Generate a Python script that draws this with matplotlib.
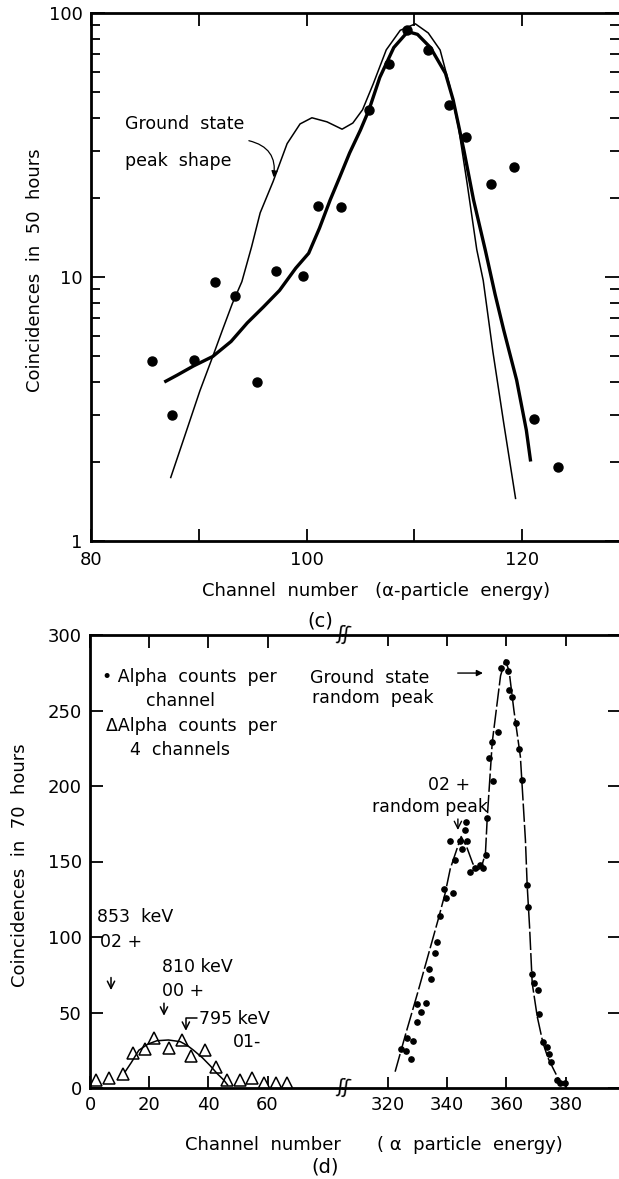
import matplotlib
matplotlib.use("Agg")
import matplotlib.pyplot as plt
from matplotlib.ticker import LogLocator, NullFormatter

plt.rcParams["font.family"] = ["DejaVu Sans"]
plt.rcParams["font.size"] = 13

# ---------------- panel (c): coincidences in 50 hours (log scale) ----------------
c_x = [85.7, 87.5, 89.6, 91.5, 93.4, 95.4, 97.2, 99.7, 101.1, 103.2,
       105.8, 107.7, 109.3, 111.3, 113.2, 114.8, 117.1, 119.3, 121.1, 123.3]
c_y = [4.8, 3.0, 4.85, 9.6, 8.5, 4.0, 10.5, 10.1, 18.5, 18.4,
       43, 64, 86, 72.5, 45, 34, 22.5, 26, 2.9, 1.9]

# thick fitted curve
fit_x = [86.8, 88.0, 89.5, 91.3, 93.0, 94.5, 96.0, 97.5, 99.0, 100.2, 101.2,
         102.2, 103.1, 104.0, 105.0, 105.8, 106.8, 108.1, 109.4, 110.3, 111.5,
         112.9, 113.6, 114.6, 115.5, 116.6, 117.5, 118.3, 119.5, 120.4, 120.8]
fit_y = [4.0, 4.25, 4.6, 5.0, 5.7, 6.7, 7.7, 8.9, 10.8, 12.3, 15.3,
         19.6, 24.0, 29.5, 36, 43, 57, 74, 85, 83, 74,
         59, 47, 30.3, 19.6, 12.6, 8.6, 6.3, 4.07, 2.63, 2.0]

# thin ground state peak shape
gs_x = [87.4, 88.7, 90.1, 91.3, 92.2, 93.1, 94.0, 94.9, 95.7, 96.9, 98.2,
        99.4, 100.5, 101.9, 103.3, 104.3, 105.2, 106.2, 107.4, 108.7, 110.1,
        111.3, 112.4, 113.3, 114.1, 114.9, 115.8, 116.4, 117.3, 118.3, 119.4]
gs_y = [1.74, 2.5, 3.7, 5.0, 6.3, 7.9, 9.6, 13, 17.5, 23, 32,
        38, 40.1, 38.7, 36.3, 38.3, 43, 54, 72.5, 86, 91,
        84, 72.4, 52.7, 37, 22.7, 12.7, 9.7, 5.2, 2.8, 1.45]

# ---------------- panel (d): coincidences in 70 hours ----------------
tri_x = [2.0, 6.4, 11.0, 14.7, 18.6, 21.7, 26.7, 31.1, 34.2, 39.0, 42.7,
         46.3, 50.8, 54.8, 58.8, 62.7, 66.7]
tri_y = [5.3, 6.6, 9.3, 23.4, 25.8, 33, 26.5, 31.8, 21.2, 25, 13.9,
         5.3, 5.3, 6.8, 3.5, 3.5, 3.5]
tri_fit_x = [11.9, 14.0, 16.5, 19.5, 22.6, 26.5, 30.5, 33.0, 35.0, 38.0,
             40.7, 43.0, 45.2, 46.5]
tri_fit_y = [10.8, 17, 25, 29, 31.3, 31.8, 30.7, 28, 25, 20,
             14.6, 9.5, 5.3, 2.0]

dot_x = [324.4, 326.1, 326.3, 327.7, 328.6, 329.7, 329.9, 331.1, 332.8, 333.7,
         334.5, 335.9, 336.7, 337.6, 339.0, 339.5, 341.0, 341.9, 342.7, 344.2,
         345.0, 345.9, 346.3, 346.7, 347.6, 349.3, 350.9, 352.1, 353.0, 353.5,
         354.2, 355.2, 355.5, 357.2, 358.0, 359.9, 360.6, 361.0, 361.9, 363.3,
         364.2, 365.1, 366.8, 367.2, 368.5, 369.3, 370.7, 371.1, 372.3, 373.8,
         374.3, 375.1, 377.0, 378.2, 379.6]
dot_y = [25.6, 24.5, 32.9, 19, 31.1, 44, 55.4, 50.6, 56.5, 78.8,
         72, 89.2, 96.5, 113.9, 131.6, 126, 163.8, 129, 151, 163.8,
         158, 170.8, 176.4, 163.8, 143.3, 145.5, 147.7, 145.5, 154.3, 178.6,
         218.3, 229.4, 203.3, 235.5, 278, 282.3, 276, 263.6, 259, 242,
         224.3, 204, 134.4, 120, 75.3, 69.8, 64.9, 48.8, 30.7, 27.4,
         22.3, 17, 5.3, 3.1, 3.1]
dc_x = [322.4, 326.0, 330.0, 334.0, 337.0, 339.3, 341.0, 342.7, 344.7, 346.5,
        348.6, 350.0, 351.5, 352.9, 353.5, 355.2, 358.0, 359.6, 360.9, 362.5,
        364.7, 366.4, 367.0, 367.8, 368.7, 370.4, 372.3, 374.0, 376.0, 377.8, 379.6]
dc_y = [10.8, 36, 63, 91, 112, 129, 145, 155, 166.5, 160,
        148.8, 144, 146, 155.4, 178.6, 229, 273, 283.4, 276, 250.3,
        219.4, 164.2, 134, 106.8, 69.3, 47.2, 30, 20, 12, 5, 2]

W, H = 619, 1179
fig = plt.figure(figsize=(W / 100, H / 100), dpi=100)


def box(x0, y0, x1, y1):
    return [x0 / W, 1 - y1 / H, (x1 - x0) / W, (y1 - y0) / H]


SPW = 2.0

# ---------------- (c) ----------------
ax = fig.add_axes(box(91, 13, 619, 541))
ax.plot(c_x, c_y, "o", color="black", ms=6.5)
ax.plot(fit_x, fit_y, "-", color="black", lw=2.4, solid_capstyle="butt")
ax.plot(gs_x, gs_y, "-", color="black", lw=1.1)
ax.set_yscale("log")
ax.set_ylim(1, 100)
ax.set_xlim(80, 129)
ax.set_yticks([1, 10, 100])
ax.set_yticklabels(["1", "10", "100"])
ax.yaxis.set_minor_locator(LogLocator(base=10, subs=range(2, 10)))
ax.yaxis.set_minor_formatter(NullFormatter())
ax.set_xticks([80, 90, 100, 110, 120])
ax.set_xticklabels(["80", "", "100", "", "120"])
ax.tick_params(which="both", direction="in", top=True, right=True,
               width=1.3, labelsize=13)
ax.tick_params(which="major", length=10)
ax.tick_params(which="minor", length=6.5)
ax.tick_params(axis="x", pad=7, length=9)
ax.tick_params(axis="y", pad=6)
for s in ax.spines.values():
    s.set_linewidth(SPW)
ax.spines["right"].set_visible(False)

ax.text(83.2, 38, "Ground  state", fontsize=12.5, va="center", ha="left")
ax.text(83.2, 27.5, "peak  shape", fontsize=12.5, va="center", ha="left")
ax.annotate("", xy=(96.9, 23.3), xytext=(94.4, 33),
            arrowprops=dict(arrowstyle="-|>", color="black", lw=0.9,
                            mutation_scale=9,
                            connectionstyle="arc3,rad=-0.5"))

fig.text(35 / W, 1 - 270 / H, "Coincidences  in  50  hours", rotation=90,
         ha="center", va="center", fontsize=13)
fig.text(376 / W, 1 - 591 / H, "Channel  number   (\u03b1-particle  energy)",
         ha="center", va="center", fontsize=13)
fig.text(320 / W, 1 - 621 / H, "(c)", ha="center", va="center", fontsize=14)

# ---------------- (d) ----------------
axl = fig.add_axes(box(90, 635, 343, 1088))
axr = fig.add_axes(box(343, 635, 619, 1088), sharey=axl)

axl.plot(tri_x, tri_y, "^", mfc="white", mec="black", mew=1.1, ms=9)
axl.plot(tri_fit_x, tri_fit_y, "-", color="black", lw=1.1)
axr.plot(dc_x, dc_y, color="black", lw=1.1, linestyle=(0, (12, 2)))
axr.plot(dot_x, dot_y, "o", color="black", ms=3.8)

axl.set_xlim(0, 85.5)
axr.set_xlim(304.8, 398)
axl.set_ylim(0, 300)
axl.set_yticks(range(0, 301, 50))
axl.set_xticks([0, 20, 40, 60])
axr.set_xticks([320, 340, 360, 380])

for a in (axl, axr):
    a.tick_params(direction="in", top=True, length=9, width=1.3,
                  labelsize=13, pad=6)
    for s in a.spines.values():
        s.set_linewidth(SPW)
axl.spines["right"].set_visible(False)
axl.tick_params(right=False)
axr.spines["left"].set_visible(False)
axr.spines["right"].set_visible(False)
axr.tick_params(left=False, labelleft=False, right=True, length=8)

# axis break marks
for yb in (0, 1):
    axr.text(0, yb, "\u0283\u0283", transform=axr.transAxes, ha="center",
             va="center", fontsize=14, rotation=-8)

# legend text
axl.text(4.0, 272, "\u2022 Alpha  counts  per", fontsize=12.5, va="center")
axl.text(19.0, 256, "channel", fontsize=12.5, va="center")
axl.text(5.5, 240, "\u0394Alpha  counts  per", fontsize=12.5, va="center")
axl.text(13.5, 224, "4  channels", fontsize=12.5, va="center")

axl.text(2.4, 113, "853  keV", fontsize=12.5, va="center")
axl.text(3.4, 97, "02 +", fontsize=12.5, va="center")
axl.annotate("", xy=(7.1, 63), xytext=(7.1, 75),
             arrowprops=dict(arrowstyle="->", color="black", lw=1.1))
axl.text(24.5, 80, "810 keV", fontsize=12.5, va="center")
axl.text(24.5, 64, "00 +", fontsize=12.5, va="center")
axl.annotate("", xy=(25.0, 46), xytext=(25.0, 58),
             arrowprops=dict(arrowstyle="->", color="black", lw=1.1))
axl.text(37.0, 45.5, "795 keV", fontsize=12.5, va="center")
axl.text(48.3, 30.5, "01-", fontsize=12.5, va="center")
axl.annotate("", xy=(32.4, 36), xytext=(37.0, 46.5),
             arrowprops=dict(arrowstyle="->", color="black", lw=1.1,
                             connectionstyle="angle,angleA=180,angleB=90,rad=0"))

axr.text(293.6, 271.5, "Ground  state", fontsize=12.5, va="center")
axr.text(294.3, 258, "random  peak", fontsize=12.5, va="center")
axr.annotate("", xy=(353.0, 274.8), xytext=(342.6, 274.8),
             arrowprops=dict(arrowstyle="-|>", color="black", lw=1.0,
                             mutation_scale=9))
axr.text(333.5, 200.7, "02 +", fontsize=12.5, va="center")
axr.text(314.6, 186, "random peak", fontsize=12.5, va="center")
axr.annotate("", xy=(343.6, 169), xytext=(343.6, 180),
             arrowprops=dict(arrowstyle="->", color="black", lw=1.0))

fig.text(20 / W, 1 - 865 / H, "Coincidences  in  70  hours", rotation=90,
         ha="center", va="center", fontsize=13)
fig.text(263 / W, 1 - 1145 / H, "Channel  number", ha="center", va="center",
         fontsize=13)
fig.text(470 / W, 1 - 1145 / H, "( \u03b1  particle  energy)", ha="center",
         va="center", fontsize=13)
fig.text(325 / W, 1 - 1167 / H, "(d)", ha="center", va="center", fontsize=14)

fig.savefig("out.png", dpi=100)
